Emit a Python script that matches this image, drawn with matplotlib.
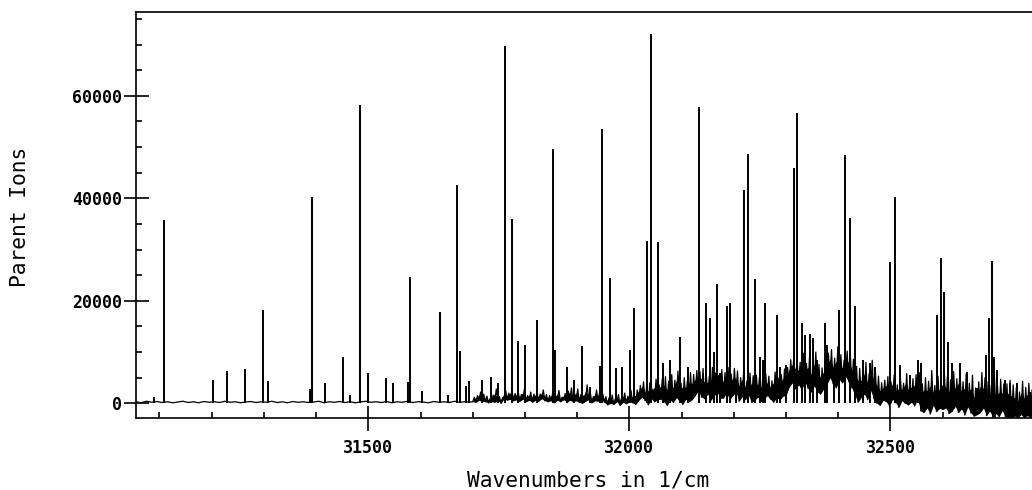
"""
Parent ion spectrum (wavenumbers in 1/cm)
"""

import numpy as np
import matplotlib.pyplot as plt
from matplotlib.ticker import MultipleLocator

# ==================== data ====================
# strong and weak lines: position (1/cm) and height (ions)
peak_x = [31089, 31109, 31202, 31229, 31264, 31298, 31307, 31388, 31393, 31417,
          31451, 31465, 31484, 31499, 31534, 31548, 31576, 31579, 31603, 31637,
          31653, 31669, 31676, 31687, 31693, 31717, 31734, 31749, 31761, 31776,
          31786, 31800, 31823, 31854, 31857, 31880, 31893, 31910, 31925, 31944,
          31947, 31963, 31974, 31985, 32002, 32008, 32034, 32042, 32055, 32064,
          32078, 32096, 32113, 32133, 32146, 32155, 32162, 32167, 32174, 32186,
          32193, 32204, 32220, 32227, 32241, 32250, 32256, 32260, 32282, 32289,
          32300, 32315, 32320, 32330, 32337, 32345, 32351, 32359, 32374, 32379,
          32391, 32402, 32412, 32423, 32432, 32448, 32461, 32471, 32500, 32508,
          32518, 32537, 32553, 32559, 32590, 32597, 32602, 32611, 32618, 32634,
          32646, 32666, 32682, 32688, 32694, 32699, 32704, 32720, 32729, 32742,
          32767]
peak_h = [1300, 35800, 4600, 6300, 6600, 18200, 4300, 2800, 40300, 3900,
          9100, 1600, 58200, 6000, 5000, 3900, 4200, 24600, 2400, 17900,
          1600, 42600, 10200, 3400, 4400, 4600, 5100, 3900, 69700, 36000,
          12200, 11400, 16200, 49600, 10400, 7100, 4500, 11200, 3200, 7300,
          53500, 24400, 6800, 7100, 10400, 18500, 31600, 72000, 31500, 7900,
          8500, 12900, 7100, 57800, 19600, 16600, 10100, 23200, 5900, 18900,
          19600, 4200, 41600, 48600, 24200, 9100, 8500, 19500, 17200, 7100,
          7500, 46000, 56600, 15600, 13300, 13500, 12700, 8500, 15600, 11400,
          6800, 18200, 48400, 36100, 18900, 8500, 7800, 7100, 27600, 40300,
          7500, 5500, 8500, 7800, 17200, 28400, 21800, 12000, 7800, 7800,
          6200, 2900, 9400, 16600, 27800, 9100, 6500, 4500, 3900, 3900,
          2300]

# background trace, quiet part (every 10 1/cm from 31055)
quiet_start, quiet_step = 31055, 10
quiet_y = [300, 100, 400, 200, 350, 150, 300, 100, 250, 400,
           150, 300, 100, 350, 200, 300, 150, 400, 200, 300,
           100, 250, 350, 150, 300, 200, 400, 150, 300, 100,
           350, 200, 300, 150, 250, 400, 100, 300, 200, 350,
           150, 300, 100, 250, 400, 200, 300, 150, 350, 100,
           300, 200, 400, 150, 300, 250, 100, 350, 200, 300,
           150, 400, 200, 300, 250]

# background trace, noisy part (every 3 1/cm from 31700: low, high, low, high...)
noisy_start, noisy_step = 31700, 3
noisy_y = [300, 1200, 200, 1500, 600, 2200, 400, 1800, 300, 1400,
           100, 900, 300, 1600, 200, 2800, 500, 1300, 0, 1100,
           900, 2500, 600, 2000, 800, 2600, 500, 1900, 700, 2300,
           400, 1700, 800, 2900, 300, 1500, 600, 2200, 200, 1800,
           600, 2200, 400, 1800, 900, 2600, 500, 1700, 300, 1500,
           500, 2000, 100, 1400, 600, 2500, 300, 1200, 700, 1900,
           200, 2400, 600, 3000, 300, 1900, 500, 2800, 200, 1700,
           0, 1500, 400, 3600, 700, 2100, 100, 1300, 500, 2600,
           400, 2200, 800, 1800, 200, 1300, -300, 1100, 0, 1600,
           -200, 900, 300, 1700, -400, 1200, 200, 2000, -100, 1400,
           300, 2500, 100, 1800, -200, 2600, 600, 3500, 1200, 4200,
           500, 3200, -300, 4000, 900, 2800, 300, 4700, 700, 3600,
           800, 4800, 300, 5200, -400, 4300, 600, 5600, 200, 4500,
           1100, 6300, 400, 3900, -200, 5000, 800, 4400, 300, 6000,
           700, 5600, 1500, 6400, 2500, 6200, 1200, 6800, 900, 5800,
           1800, 5300, 600, 7000, 1400, 5900, 2200, 5400, 1000, 6600,
           1000, 6000, 2000, 7000, 800, 5700, 1500, 6800, 2200, 6300,
           400, 5000, 1300, 6500, 700, 4400, 1600, 5900, 200, 5400,
           600, 5500, 1200, 5100, 300, 4700, 900, 5800, 1500, 5300,
           800, 4400, 200, 6100, 1100, 4900, 600, 5600, 1400, 6700,
           1500, 7000, 3200, 8500, 4000, 9500, 2800, 8800, 3600, 8000,
           2600, 9800, 4200, 7800, 2900, 9200, 2200, 7500, 3400, 10000,
           2200, 7600, 1800, 6900, 2800, 8000, 3600, 9800, 5000, 10500,
           3800, 8800, 3000, 11000, 4600, 9500, 4000, 8400, 5200, 10200,
           4200, 10000, 3000, 8600, 1500, 7200, 200, 6800, 1200, 6200,
           1800, 8000, 700, 5800, 2500, 8400, 900, 6500, 0, 5300,
           -400, 4000, 600, 4500, 300, 5200, -600, 4200, 800, 5500,
           100, 3600, -800, 4900, 500, 3900, 0, 5800, -300, 4400,
           200, 4800, -500, 5600, 800, 6000, -1500, 3800, -1800, 5000,
           -900, 4300, -2100, 6400, -400, 3500, -1600, 5300, -1000, 4600,
           -1200, 6500, -900, 5200, -2000, 4600, -1500, 6200, -600, 4800,
           -1800, 7000, -1100, 4200, -2300, 5800, -700, 3900, -1900, 5500,
           -2500, 3000, -2200, 4200, -1800, 6000, -900, 5000, -2400, 4200,
           -1500, 3500, -2700, 5400, -2000, 3300, -2600, 4700, -1400, 3800,
           -2600, 3800, -2700, 4500, -2800, 3600, -2500, 3000, -2800, 2200,
           -2200, 4300, -2800, 3100, -2400, 3900, -2800, 2600, -2600, 2300]

x_major = [31500, 32000, 32500]
y_major = [0, 20000, 40000, 60000]

# ==================== plot ====================
quiet_x = quiet_start + quiet_step * np.arange(len(quiet_y))
noisy_x = noisy_start + noisy_step * np.arange(len(noisy_y))
trace_x = np.concatenate([quiet_x, noisy_x])
trace_y = np.concatenate([quiet_y, noisy_y])

mono = 'DejaVu Sans Mono'
fig = plt.figure(figsize=(10.32, 4.90), dpi=100)
ax = fig.add_axes([136 / 1032, 1 - 417.7 / 490, 1 - 136 / 1032, (417.7 - 12.3) / 490])

# the noisy stretch is mostly solid black, with the spikes poking out above
n2 = len(noisy_y) // 2
low = np.array(noisy_y[0:2 * n2:2])
high = np.array(noisy_y[1:2 * n2:2])
ax.fill_between(noisy_x[0:2 * n2:2], low, low + 0.65 * (high - low),
                color='black', linewidth=0)

ax.plot(trace_x, trace_y, color='black', linewidth=0.9)
ax.vlines(peak_x, 0, peak_h, color='black', linewidth=1.4)

ax.set_xlim(31055, 32771)
ax.set_ylim(-2810, 76290)

ax.spines['right'].set_visible(False)
for s in ['left', 'bottom', 'top']:
    ax.spines[s].set_linewidth(1.2)

ax.set_xticks(x_major)
ax.set_yticks(y_major)
ax.xaxis.set_minor_locator(MultipleLocator(100))
ax.yaxis.set_minor_locator(MultipleLocator(5000))
ax.tick_params(which='major', direction='inout', length=18, width=1.2,
               top=False, right=False)
ax.tick_params(which='minor', direction='in', length=4.5, width=1.2,
               top=False, right=False)
ax.tick_params(axis='x', which='major', pad=6)
ax.tick_params(axis='y', which='major', pad=1)

for lab in ax.get_xticklabels() + ax.get_yticklabels():
    lab.set_family(mono)
    lab.set_fontsize(12)
    lab.set_weight('bold')

fig.text(588 / 1032, 1 - 480 / 490, 'Wavenumbers in 1/cm', family=mono,
         fontsize=15.3, ha='center', va='center')
fig.text(20 / 1032, 1 - 217 / 490, 'Parent Ions', family=mono,
         fontsize=15.3, ha='center', va='center', rotation=90)

fig.savefig('out.png', dpi=100)
